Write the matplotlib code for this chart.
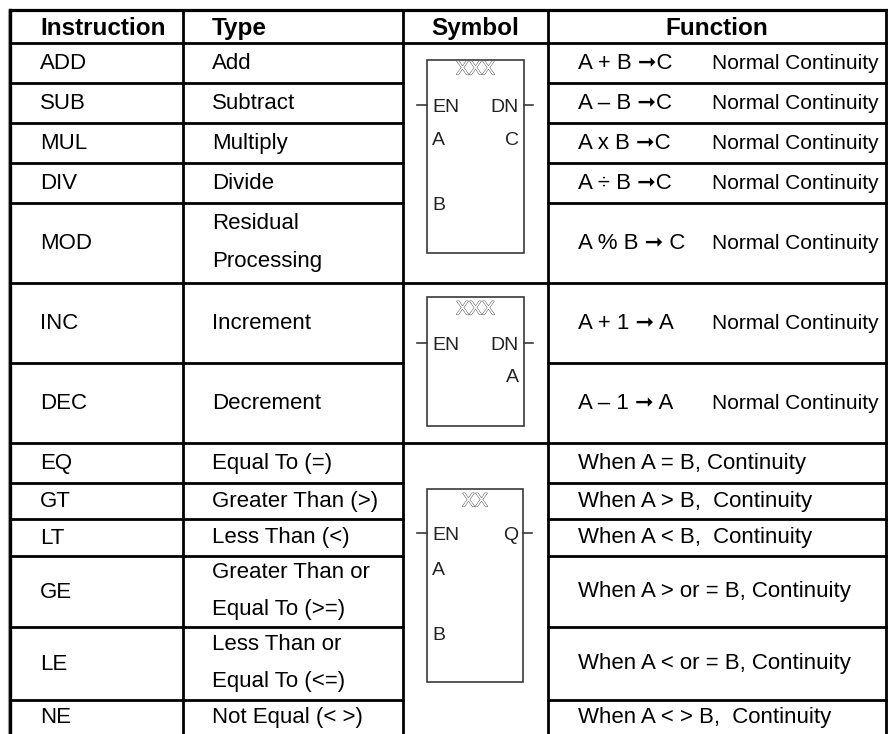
import matplotlib.pyplot as plt
import matplotlib.patheffects as pe
from matplotlib.patches import Rectangle

# table content
headers = ["Instruction", "Type", "Symbol", "Function"]
instructions = ["ADD", "SUB", "MUL", "DIV", "MOD", "INC", "DEC",
                "EQ", "GT", "LT", "GE", "LE", "NE"]
types = ["Add", "Subtract", "Multiply", "Divide", "Residual\nProcessing",
         "Increment", "Decrement", "Equal To (=)", "Greater Than (>)",
         "Less Than (<)", "Greater Than or\nEqual To (>=)",
         "Less Than or\nEqual To (<=)", "Not Equal (< >)"]
func_expr = ["A + B \u279eC", "A \u2013 B \u279eC", "A x B \u279eC",
             "A \u00f7 B \u279eC", "A % B \u279e C", "A + 1 \u279e A",
             "A \u2013 1 \u279e A",
             "When A = B, Continuity", "When A > B,  Continuity",
             "When A < B,  Continuity", "When A > or = B, Continuity",
             "When A < or = B, Continuity", "When A < > B,  Continuity"]
func_note = ["Normal Continuity"] * 7 + [""] * 6

# symbol blocks: tag, right-top pin, inputs, outputs
sym_tags = ["XXX", "XXX", "XX"]
sym_pins = ["DN", "DN", "Q"]
sym_inputs = [["A", "B"], [], ["A", "B"]]
sym_outputs = [["C"], ["A"], []]

# layout (pixels)
row_edges = [43, 83, 123, 163, 203, 283, 363, 443, 483, 519, 556, 627, 700, 734]
group_edges = [43, 283, 443]
col_x = [10, 183, 403, 548, 886]
boxes = [(427, 60, 524, 253), (427, 297, 524, 426), (427, 489, 523, 682)]
pin_y = [105, 343, 533]
in_y = [[145, 210], [], [575, 640]]
out_y = [[145], [382], []]
tag_y = [70, 310, 502]

body_font = ['Liberation Sans', 'DejaVu Sans']
head_font = ['Liberation Sans', 'DejaVu Sans']
fs = 16

fig = plt.figure(figsize=(8.88, 7.34), dpi=100)
ax = fig.add_axes([0, 0, 1, 1])
ax.set_xlim(0, 888)
ax.set_ylim(734, 0)
ax.axis('off')

lw = 2.0
# grid
ax.plot([col_x[0], col_x[-1]], [9.5, 9.5], color='black', lw=lw + 0.3)
for x in col_x:
    ax.plot([x, x], [9.5, 734], color='black', lw=lw if x != 10 else lw + 0.4)
ax.plot([7.5, 7.5], [9.5, 734], color='#999999', lw=0.8)
for e in row_edges[:-1]:
    if e in group_edges:
        ax.plot([col_x[0], col_x[-1]], [e, e], color='black', lw=lw)
    else:
        ax.plot([col_x[0], col_x[2]], [e, e], color='black', lw=lw)
        ax.plot([col_x[3], col_x[-1]], [e, e], color='black', lw=lw)

# headers
hkw = dict(family=head_font, fontsize=17.5, fontweight='bold')
ax.text(40, 35, headers[0], **hkw)
ax.text(212, 35, headers[1], **hkw)
ax.text(475, 35, headers[2], ha='center', **hkw)
ax.text(717, 35, headers[3], ha='center', **hkw)

# rows
for i in range(len(instructions)):
    yc = (row_edges[i] + row_edges[i + 1]) / 2
    ax.text(40, yc + 6, instructions[i], family=body_font, fontsize=fs)
    lines = types[i].split("\n")
    if len(lines) == 1:
        ax.text(212, yc + 6, lines[0], family=body_font, fontsize=fs)
    else:
        ax.text(212, yc - 20 + 6, lines[0], family=body_font, fontsize=fs)
        ax.text(212, yc + 18 + 6, lines[1], family=body_font, fontsize=fs)
    ax.text(578, yc + 6, func_expr[i], family=body_font, fontsize=fs)
    if func_note[i]:
        ax.text(712, yc + 6, func_note[i], family=body_font, fontsize=15)

# symbol blocks
sym_font = ['Liberation Sans', 'DejaVu Sans']
for k, (x0, y0, x1, y1) in enumerate(boxes):
    ax.add_patch(Rectangle((x0, y0), x1 - x0, y1 - y0, fill=False,
                           edgecolor='#3a3a3a', lw=1.2))
    ax.plot([x0 - 10, x0], [pin_y[k], pin_y[k]], color='#3a3a3a', lw=1.2)
    ax.plot([x1, x1 + 9], [pin_y[k], pin_y[k]], color='#3a3a3a', lw=1.2)
    ax.text((x0 + x1) / 2, tag_y[k], sym_tags[k], family=sym_font, fontsize=14,
            ha='center', va='center', color='white',
            path_effects=[pe.withStroke(linewidth=0.8, foreground='#666666')])
    ax.text(x0 + 5, pin_y[k] + 7, "EN", family=sym_font, fontsize=14, color='#222222')
    ax.text(x1 - 5, pin_y[k] + 7, sym_pins[k], family=sym_font, fontsize=14,
            color='#222222', ha='right')
    for lab, yy in zip(sym_inputs[k], in_y[k]):
        ax.text(x0 + 5, yy, lab, family=sym_font, fontsize=14, color='#222222')
    for lab, yy in zip(sym_outputs[k], out_y[k]):
        ax.text(x1 - 5, yy, lab, family=sym_font, fontsize=14, color='#222222', ha='right')

fig.savefig("out.png", dpi=100)
